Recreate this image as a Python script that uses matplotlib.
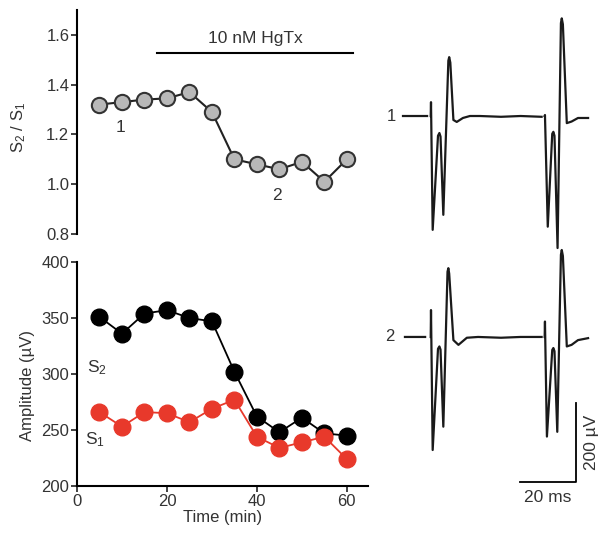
import numpy as np
import matplotlib
matplotlib.use("Agg")
import matplotlib.pyplot as plt

plt.rcParams['font.family'] = ['Liberation Sans', 'DejaVu Sans']
plt.rcParams['mathtext.fontset'] = 'custom'
plt.rcParams['mathtext.rm'] = 'Liberation Sans'
plt.rcParams['mathtext.it'] = 'Liberation Sans:italic'

# time course (min)
time = [5, 10, 15, 20, 25, 30, 35, 40, 45, 50, 55, 60]
ratio = [1.32, 1.33, 1.34, 1.345, 1.37, 1.29, 1.10, 1.08, 1.06, 1.09, 1.01, 1.10]
amp_s2 = [351, 336, 354, 357, 350, 347, 302, 262, 248, 261, 247, 245]
amp_s1 = [266, 253, 266, 265, 257, 269, 277, 244, 234, 239, 244, 224]

# example traces (ms, uV relative to baseline), keypoints
# nan = gap left by the blanked stimulus
nan = np.nan
trace1_t = [0, 8.6, nan, 9.9, 10.0, 10.6, 12.5, 13.0, 13.4, 14.4, 16.2, 16.5, 16.9,
            18.0, 19.2, 21.4, 23.9, 27.5, 35, 42, 49.5, nan, 50.6, 50.7, 51.7, 53.3, 53.7,
            54.1, 55.2, 56.4, 56.7, 57.1, 58.5, 60.2, 62.5, 66.1]
trace1_v = [0, 0, nan, 0, 35, -288, -50, -43, -52, -250, 140, 149, 135,
            -10, -15, -5, 0, 0, -2, 0, -2, nan, 0, 2.5, -280, -45, -40,
            -50, -334, 235, 247, 232, -18, -14, -5, -5]
trace2_t = [0.7, 7.9, nan, 9.9, 10.0, 10.6, 12.5, 13.0, 13.4, 14.4, 15.9, 16.2, 16.5,
            18.0, 19.8, 22.8, 26.8, 35, 42, 49.5, nan, 50.6, 50.7, 51.4, 53.3, 53.7,
            54.1, 55.1, 56.4, 56.7, 57.1, 58.5, 60.2, 62.5, 66.1]
trace2_v = [0, 0, nan, 0, 68, -286, -30, -24, -32, -227, 165, 174, 160,
            -8, -20, -2, 0, -2, 0, 0, nan, 0, 39, -252, -33, -28,
            -36, -240, 208, 220, 205, -24, -20, -8, -3]
trace_offset = -559

hgtx_start, hgtx_end = 17.8, 61.3
text_col = '#333333'

fig = plt.figure(figsize=(6.0, 5.39), dpi=100)
W, H = 600, 539


def rect(x0, y0, x1, y1):
    return [x0 / W, 1 - y1 / H, (x1 - x0) / W, (y1 - y0) / H]


# --- ratio panel
ax1 = fig.add_axes(rect(77, 10, 368, 234))
ax1.plot(time, ratio, '-o', color='#222222', lw=1.5, ms=11,
         mfc='#b8b8b8', mec='#333333', mew=1.5, clip_on=False, zorder=3)
ax1.set_xlim(0, 64.7)
ax1.set_ylim(0.8, 1.7)
ax1.set_yticks([0.8, 1.0, 1.2, 1.4, 1.6])
ax1.set_yticklabels(['0.8', '1.0', '1.2', '1.4', '1.6'])
for s in ['top', 'right', 'bottom']:
    ax1.spines[s].set_visible(False)
ax1.spines['left'].set_linewidth(1.5)
ax1.set_xticks([])
ax1.tick_params(axis='y', length=4, width=1.3, pad=1.5, labelsize=12, colors=text_col)
ax1.set_ylabel('S$_2$ / S$_1$', fontsize=12, color=text_col)
ax1.yaxis.set_label_coords(-0.168, 0.478)
ax1.plot([hgtx_start, hgtx_end], [1.528, 1.528], color='black', lw=1.5, clip_on=False)
ax1.text((hgtx_start + hgtx_end) / 2, 1.555, '10 nM HgTx', ha='center', va='bottom',
         fontsize=12.5, color=text_col)
ax1.text(9.6, 1.226, '1', ha='center', va='center', fontsize=12.5, color=text_col)
ax1.text(44.4, 0.953, '2', ha='center', va='center', fontsize=12.5, color=text_col)

# --- amplitude panel
ax2 = fig.add_axes(rect(77, 262, 368, 486))
ax2.plot(time, amp_s2, '-o', color='black', lw=1.3, ms=12, mfc='black',
         mec='black', clip_on=False, zorder=3)
ax2.plot(time, amp_s1, '-o', color='#e8392b', lw=1.3, ms=12, mfc='#e8392b',
         mec='#e8392b', clip_on=False, zorder=4)
ax2.set_xlim(0, 64.7)
ax2.set_ylim(200, 400)
ax2.set_xticks([0, 20, 40, 60])
ax2.set_yticks([200, 250, 300, 350, 400])
for s in ['top', 'right']:
    ax2.spines[s].set_visible(False)
ax2.spines['left'].set_linewidth(1.5)
ax2.spines['bottom'].set_linewidth(1.5)
ax2.tick_params(length=4, width=1.3, pad=1.5, labelsize=12, colors=text_col)
ax2.set_ylabel('Amplitude (µV)', fontsize=12, color=text_col)
ax2.yaxis.set_label_coords(-0.145, 0.45)
ax2.set_xlabel('Time (min)', fontsize=12, color=text_col)
ax2.xaxis.set_label_coords(0.5, -0.105)
ax2.text(4.4, 306, 'S$_2$', ha='center', va='center', fontsize=12.5, color=text_col)
ax2.text(4.0, 241, 'S$_1$', ha='center', va='center', fontsize=12.5, color=text_col)

# --- example traces
ax3 = fig.add_axes(rect(395, 0, 600, 500))
ax3.plot(trace1_t, trace1_v, color='#1a1a1a', lw=1.6)
ax3.plot(trace2_t, np.array(trace2_v) + trace_offset, color='#1a1a1a', lw=1.6)
ax3.set_xlim(-2.857, 70.357)
ax3.set_ylim(-971.5, 293.5)
ax3.axis('off')
ax3.text(-4.2, 0, '1', ha='center', va='center', fontsize=12, color=text_col)
ax3.text(-4.8, trace_offset, '2', ha='center', va='center', fontsize=12, color=text_col)
# scale bars: 20 ms, 200 uV
ax3.plot([41.8, 61.8, 61.8], [-926, -926, -726], color='black', lw=1.3)
ax3.text(51.8, -964, '20 ms', ha='center', va='center', fontsize=12.5, color=text_col)
ax3.text(67.3, -826, '200 µV', ha='center', va='center', rotation=90,
         fontsize=12.5, color=text_col)

fig.savefig('out.png', dpi=100)
